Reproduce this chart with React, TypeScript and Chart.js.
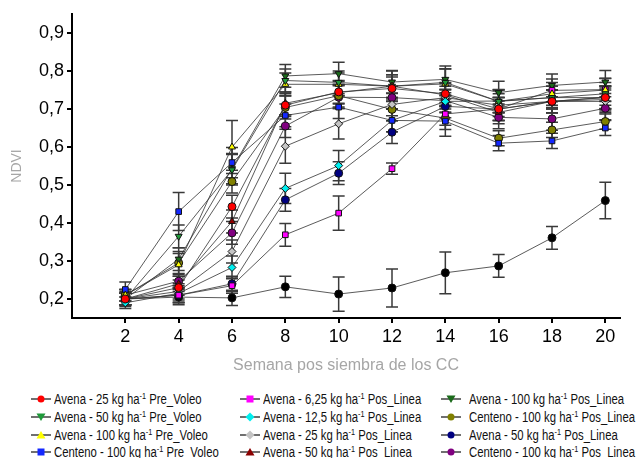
import React, { useEffect, useRef } from "react";
import { Chart, registerables } from "chart.js";
Chart.register(...registerables);

const weeks = [2, 4, 6, 8, 10, 12, 14, 16, 18, 20];
const xTickValues = [2, 4, 6, 8, 10, 12, 14, 16, 18, 20];
const yTickValues = [0.2, 0.3, 0.4, 0.5, 0.6, 0.7, 0.8, 0.9];

const seriesLabels = [
  ["Avena - 25 kg ha", " Pre_Voleo"],
  ["Avena - 50 kg ha", " Pre_Voleo"],
  ["Avena - 100 kg ha", " Pre_Voleo"],
  ["Centeno - 100 kg ha", " Pre_Voleo"],
  ["Avena - 6,25 kg ha", " Pos_Linea"],
  ["Avena - 12,5 kg ha", " Pos_Linea"],
  ["Avena - 25 kg ha", " Pos_Linea"],
  ["Avena - 50 kg ha", " Pos_Linea"],
  ["Avena - 100 kg ha", " Pos_Linea"],
  ["Centeno - 100 kg ha", " Pos_Linea"],
  ["Avena - 50 kg ha", " Pos_Linea"],
  ["Centeno - 100 kg ha", " Pos_Linea"],
  ["Testigo", ""],
];
const seriesColors = [
  "#ff0000", "#1f9a3a", "#ffff00", "#1428ff",
  "#ff00ff", "#00eeee", "#c4c4c4", "#8b0000",
  "#1b6b1b", "#808000", "#000080", "#800080", "#000000",
];
const seriesShapes = [
  "circle", "triangleDown", "triangle", "rect",
  "rect", "rectRot", "rectRot", "triangle",
  "triangleDown", "circle", "circle", "circle", "circle",
];

const avena25PreVoleo = [0.2, 0.23, 0.443, 0.71, 0.745, 0.754, 0.74, 0.7, 0.72, 0.73];
const avena50PreVoleo = [0.2, 0.365, 0.54, 0.775, 0.77, 0.76, 0.77, 0.72, 0.73, 0.74];
const avena100PreVoleo = [0.21, 0.29, 0.6, 0.765, 0.765, 0.76, 0.766, 0.72, 0.74, 0.75];
const centeno100PreVoleo = [0.225, 0.43, 0.559, 0.683, 0.705, 0.67, 0.668, 0.61, 0.616, 0.65];
const avena625PosLinea = [0.2, 0.21, 0.235, 0.369, 0.426, 0.543, 0.687, 0.7, 0.749, 0.751];
const avena125PosLinea = [0.19, 0.215, 0.283, 0.491, 0.551, 0.67, 0.72, 0.721, 0.73, 0.73];
const avena25PosLinea = [0.2, 0.22, 0.325, 0.602, 0.661, 0.712, 0.73, 0.71, 0.72, 0.72];
const avena50PosLineaA = [0.2, 0.24, 0.404, 0.715, 0.743, 0.76, 0.737, 0.691, 0.72, 0.725];
const avena100PosLinea = [0.2, 0.305, 0.543, 0.787, 0.793, 0.771, 0.778, 0.743, 0.762, 0.771];
const centeno100PosLineaA = [0.21, 0.295, 0.509, 0.704, 0.735, 0.699, 0.676, 0.623, 0.645, 0.667];
const avena50PosLineaB = [0.2, 0.21, 0.24, 0.461, 0.531, 0.639, 0.707, 0.7, 0.72, 0.731];
const centeno100PosLineaB = [0.21, 0.247, 0.374, 0.655, 0.731, 0.73, 0.722, 0.678, 0.674, 0.702];
const testigo = [0.2, 0.205, 0.203, 0.232, 0.213, 0.229, 0.269, 0.287, 0.361, 0.459];

const errAvena25PreVoleo = [0.015, 0.02, 0.03, 0.03, 0.03, 0.03, 0.03, 0.03, 0.03, 0.03];
const errAvena50PreVoleo = [0.015, 0.03, 0.04, 0.03, 0.03, 0.03, 0.035, 0.03, 0.03, 0.03];
const errAvena100PreVoleo = [0.015, 0.03, 0.07, 0.03, 0.03, 0.04, 0.04, 0.03, 0.03, 0.03];
const errCenteno100PreVoleo = [0.02, 0.05, 0.04, 0.03, 0.03, 0.03, 0.04, 0.02, 0.02, 0.02];
const errAvena625PosLinea = [0.015, 0.02, 0.02, 0.03, 0.045, 0.015, 0.03, 0.03, 0.03, 0.03];
const errAvena125PosLinea = [0.015, 0.02, 0.03, 0.04, 0.04, 0.03, 0.03, 0.03, 0.03, 0.03];
const errAvena25PosLinea = [0.015, 0.02, 0.03, 0.045, 0.04, 0.03, 0.03, 0.03, 0.03, 0.03];
const errAvena50PosLineaA = [0.015, 0.02, 0.03, 0.03, 0.03, 0.03, 0.03, 0.03, 0.03, 0.03];
const errAvena100PosLinea = [0.015, 0.03, 0.04, 0.03, 0.03, 0.03, 0.035, 0.03, 0.03, 0.03];
const errCenteno100PosLineaA = [0.015, 0.03, 0.03, 0.03, 0.03, 0.03, 0.03, 0.02, 0.02, 0.02];
const errAvena50PosLineaB = [0.015, 0.02, 0.02, 0.03, 0.03, 0.03, 0.03, 0.03, 0.03, 0.03];
const errCenteno100PosLineaB = [0.015, 0.02, 0.03, 0.03, 0.03, 0.03, 0.03, 0.03, 0.03, 0.03];
const errTestigo = [0.02, 0.02, 0.02, 0.028, 0.045, 0.05, 0.055, 0.03, 0.03, 0.048];

const seriesValues = [
  avena25PreVoleo, avena50PreVoleo, avena100PreVoleo, centeno100PreVoleo,
  avena625PosLinea, avena125PosLinea, avena25PosLinea, avena50PosLineaA,
  avena100PosLinea, centeno100PosLineaA, avena50PosLineaB, centeno100PosLineaB, testigo,
];
const seriesErrors = [
  errAvena25PreVoleo, errAvena50PreVoleo, errAvena100PreVoleo, errCenteno100PreVoleo,
  errAvena625PosLinea, errAvena125PosLinea, errAvena25PosLinea, errAvena50PosLineaA,
  errAvena100PosLinea, errCenteno100PosLineaA, errAvena50PosLineaB, errCenteno100PosLineaB, errTestigo,
];

const xTitle = "Semana pos siembra de los CC";
const yTitle = "NDVI";

const errorBarPlugin = {
  id: "errorBars",
  beforeDatasetsDraw(chart: any) {
    const { ctx, scales } = chart;
    const x = scales.x, y = scales.y;
    ctx.save();
    ctx.strokeStyle = "#3a3a3a";
    ctx.lineWidth = 1.5;
    chart.data.datasets.forEach((ds: any) => {
      ds.data.forEach((pt: any, i: number) => {
        const e = ds.errors[i];
        const px = x.getPixelForValue(pt.x);
        const top = y.getPixelForValue(pt.y + e);
        const bot = y.getPixelForValue(pt.y - e);
        ctx.beginPath();
        ctx.moveTo(px, top); ctx.lineTo(px, bot);
        ctx.moveTo(px - 6, top); ctx.lineTo(px + 6, top);
        ctx.moveTo(px - 6, bot); ctx.lineTo(px + 6, bot);
        ctx.stroke();
      });
    });
    ctx.restore();
  },
};

const legendCols = [
  { line: 31, text: 54 },
  { line: 240, text: 263 },
  { line: 441, text: 469 },
];
const legendRows = [399, 417, 434.5, 452];

function Marker({ shape, color }: { shape: string; color: string }) {
  const cx = 10, cy = 5;
  let m: any;
  if (shape === "circle") m = <circle cx={cx} cy={cy} r={3.5} fill={color} />;
  else if (shape === "rect") m = <rect x={cx - 3.5} y={cy - 3.5} width={7} height={7} fill={color} />;
  else if (shape === "rectRot") m = <polygon points={`${cx},${cy - 4.5} ${cx + 4.5},${cy} ${cx},${cy + 4.5} ${cx - 4.5},${cy}`} fill={color} />;
  else if (shape === "triangle") m = <polygon points={`${cx},${cy - 4} ${cx + 4.5},${cy + 3.5} ${cx - 4.5},${cy + 3.5}`} fill={color} />;
  else m = <polygon points={`${cx},${cy + 4} ${cx + 4.5},${cy - 3.5} ${cx - 4.5},${cy - 3.5}`} fill={color} />;
  return (
    <svg width={20} height={10} style={{ display: "block" }}>
      <line x1={0} y1={cy} x2={20} y2={cy} stroke="#222" strokeWidth={1.3} />
      {m}
    </svg>
  );
}

export default function App() {
  const canvasRef = useRef<HTMLCanvasElement | null>(null);
  useEffect(() => {
    if (!canvasRef.current) return;
    const tickFont = { family: "'Liberation Sans', Arial, sans-serif", size: 18 };
    const datasets = seriesValues.map((vals, i) => ({
      label: seriesLabels[i][0] + "⁻¹" + seriesLabels[i][1],
      data: vals.map((v, j) => ({ x: weeks[j], y: v })),
      errors: seriesErrors[i],
      borderColor: "rgba(50,50,50,0.8)",
      borderWidth: 1,
      backgroundColor: seriesColors[i],
      pointBackgroundColor: seriesColors[i],
      pointBorderColor: "#111",
      pointBorderWidth: 1,
      pointRadius: 4,
      pointStyle: seriesShapes[i] === "triangleDown" ? "triangle" : seriesShapes[i],
      pointRotation: seriesShapes[i] === "triangleDown" ? 180 : 0,
      tension: 0,
      fill: false,
    }));
    const chart = new Chart(canvasRef.current, {
      type: "line",
      data: { datasets: datasets as any },
      plugins: [errorBarPlugin],
      options: {
        animation: false,
        responsive: false,
        layout: { padding: { top: 14, right: 16, left: 0, bottom: 0 } },
        plugins: { legend: { display: false }, tooltip: { enabled: false } },
        scales: {
          x: {
            type: "linear",
            min: 0,
            max: 20.55,
            afterBuildTicks: (s: any) => { s.ticks = xTickValues.map((v) => ({ value: v })); },
            afterFit: (s: any) => { s.height = 57; },
            ticks: { font: tickFont, color: "#000", padding: 3, autoSkip: false, maxRotation: 0, callback: (v: any) => String(v) },
            grid: { drawOnChartArea: false, drawTicks: true, tickLength: 5, color: "#000", lineWidth: 2 },
            border: { display: true, color: "#000", width: 2 },
            title: { display: true, text: xTitle, color: "#a6a6a6", font: { family: "'Liberation Sans', Arial, sans-serif", size: 16 }, padding: { top: 4, bottom: 0 } },
          },
          y: {
            type: "linear",
            min: 0.15,
            max: 0.95,
            afterBuildTicks: (s: any) => { s.ticks = yTickValues.map((v) => ({ value: v })); },
            afterFit: (s: any) => { s.width = 72; },
            ticks: { font: tickFont, color: "#000", padding: 3, callback: (v: any) => Number(v).toFixed(1).replace(".", ",") },
            grid: { drawOnChartArea: false, drawTicks: true, tickLength: 5, color: "#000", lineWidth: 2 },
            border: { display: true, color: "#000", width: 2 },
            title: { display: true, text: yTitle, color: "#a6a6a6", font: { family: "'Liberation Sans', Arial, sans-serif", size: 14 }, padding: { bottom: 0, top: 9 } },
          },
        },
      } as any,
    });
    return () => chart.destroy();
  }, []);

  const legendItems = seriesLabels.slice(0, 12).map((lab, i) => {
    const col = Math.floor(i / 4), row = i % 4;
    const c = legendCols[col], cy = legendRows[row];
    return (
      <React.Fragment key={i}>
        <div style={{ position: "absolute", left: c.line, top: cy - 5 }}>
          <Marker shape={seriesShapes[i]} color={seriesColors[i]} />
        </div>
        <div
          style={{
            position: "absolute", left: c.text, top: cy - 8, height: 16, lineHeight: "16px",
            fontFamily: "'Liberation Sans', Arial, sans-serif",
            fontSize: 14, color: "#111", whiteSpace: "nowrap",
            transform: "scaleX(0.81)", transformOrigin: "0 50%",
          }}
        >
          {lab[0]}
          <sup style={{ fontSize: 9, verticalAlign: "top", lineHeight: "10px" }}>-1</sup>
          {lab[1]}
        </div>
      </React.Fragment>
    );
  });

  return (
    <div style={{ position: "fixed", left: 0, top: 0, width: 636, height: 458, overflow: "hidden", background: "#fff" }}>
      <canvas ref={canvasRef} width={636} height={375} style={{ position: "absolute", left: 0, top: 0, width: 636, height: 375 }} />
      {legendItems}
    </div>
  );
}
